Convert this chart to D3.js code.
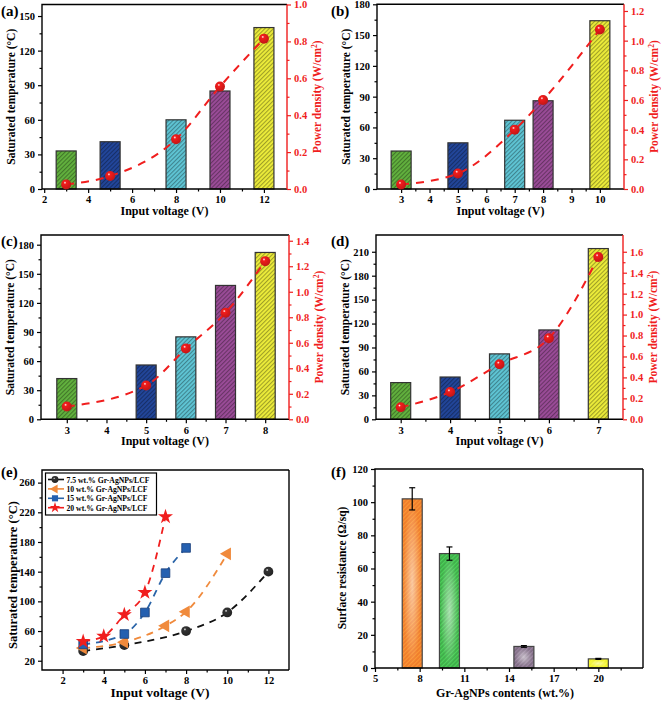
<!DOCTYPE html>
<html><head><meta charset="utf-8">
<script src="https://cdn.jsdelivr.net/npm/d3@7"></script>
<style>
body{margin:0;background:#fff}
text{font-family:"Liberation Serif","Times New Roman",serif;font-weight:bold}
</style>
</head><body>
<svg id="c" width="661" height="703"></svg>
<script>
// ---------- DATA ----------
const voltsA=[3,5,8,10,12],  tempA=[33,41,60,85,140],  powA=[0.025,0.07,0.27,0.555,0.815];
const voltsB=[3,5,7,8,10],   tempB=[37,45,67,86,164],  powB=[0.03,0.105,0.40,0.60,1.075];
const voltsC=[3,5,6,7,8],    tempC=[42,56,85,138,172], powC=[0.10,0.265,0.555,0.835,1.24];
const voltsD=[3,4,5,6,7],    tempD=[46,53,82,112,214], powD=[0.115,0.26,0.525,0.775,1.55];
const seriesNames=["7.5 wt.% Gr-AgNPs/LCF","10 wt.% Gr-AgNPs/LCF","15 wt.% Gr-AgNPs/LCF","20 wt.% Gr-AgNPs/LCF"];
const contents=[7.5,10,15,20];
const resistance=[102,69,13,5.5];
const resistErr=[6.7,4,0.5,0.3];
const ticksA={x:[2,4,6,8,10,12],y:[0,30,60,90,120,150],y2:[0,0.2,0.4,0.6,0.8,1.0]};
const ticksB={x:[3,4,5,6,7,8,9,10],y:[0,30,60,90,120,150,180],y2:[0,0.2,0.4,0.6,0.8,1.0,1.2]};
const ticksC={x:[3,4,5,6,7,8],y:[0,30,60,90,120,150,180],y2:[0,0.2,0.4,0.6,0.8,1.0,1.2,1.4]};
const ticksD={x:[3,4,5,6,7],y:[0,30,60,90,120,150,180,210],y2:[0,0.2,0.4,0.6,0.8,1.0,1.2,1.4,1.6]};
const ticksE={x:[2,4,6,8,10,12],y:[20,60,100,140,180,220,260]};
const ticksF={x:[5,8,11,14,17,20],y:[0,20,40,60,80,100,120]};

// ---------- STYLE ----------
const barColors=["#62b23e","#22469b","#5fc6d6","#9b4c99","#eeee3a"];
const fColors=["#f07d2c","#3fae4a","#7f6c84","#eef02e"];
const lineColorsE=["#111111","#f08a3c","#2a64a8","#f01e1e"];
const RED="#f01e1e";

const svg=d3.select("#c");
const defs=svg.append("defs");
function hatch(id,col,lineCol,op){
  const p=defs.append("pattern").attr("id",id).attr("patternUnits","userSpaceOnUse")
    .attr("width",3).attr("height",3).attr("patternTransform","rotate(45)");
  p.append("rect").attr("width",3).attr("height",3).attr("fill",col);
  p.append("line").attr("x1",0.6).attr("y1",0).attr("x2",0.6).attr("y2",3)
    .attr("stroke",lineCol).attr("stroke-width",1).attr("stroke-opacity",op);
}
barColors.forEach((c,i)=>hatch("h"+i,c,d3.color(c).darker(1.6),0.85));
fColors.forEach((c,i)=>hatch("f"+i,c,d3.color(c).brighter(0.8),0.7));
const glow=defs.append("radialGradient").attr("id","glow");
glow.append("stop").attr("offset","0%").attr("stop-color","#fff").attr("stop-opacity",0.55);
glow.append("stop").attr("offset","100%").attr("stop-color","#fff").attr("stop-opacity",0);
function ball(id,c,dk){
  const g=defs.append("radialGradient").attr("id",id).attr("cx","38%").attr("cy","33%").attr("r","65%");
  g.append("stop").attr("offset","0%").attr("stop-color","#fff");
  g.append("stop").attr("offset","22%").attr("stop-color",c);
  g.append("stop").attr("offset","100%").attr("stop-color",d3.color(c).darker(dk));
}
ball("ballR","#f21c1c",0.6);ball("ballK","#333",1);

function axes(g,x,y,box,t,opt){
  const xs=t.x, ys=t.y;
  const xMinor=[];for(let i=0;i<xs.length-1;i++)xMinor.push((xs[i]+xs[i+1])/2);
  if(opt.xMinorEnds){xMinor.push(xs[xs.length-1]+(xs[1]-xs[0])/2);}
  const yMinor=[];for(let i=0;i<ys.length-1;i++)yMinor.push((ys[i]+ys[i+1])/2);
  if(opt.yMinorTop) yMinor.push(ys[ys.length-1]+(ys[1]-ys[0])/2);
  const yMinF=yMinor.filter(v=>v>=y.domain()[0]&&v<=y.domain()[1]);
  const xMinF=xMinor.filter(v=>v>=x.domain()[0]&&v<=x.domain()[1]);
  g.append("g").attr("transform",`translate(0,${box.b})`)
    .call(d3.axisBottom(x).tickValues(xs).tickSize(4).tickPadding(3).tickFormat(d=>d));
  g.append("g").attr("transform",`translate(0,${box.b})`)
    .call(d3.axisBottom(x).tickValues(xMinF).tickSize(2.5).tickFormat(""));
  g.append("g").attr("transform",`translate(${box.l},0)`)
    .call(d3.axisLeft(y).tickValues(ys).tickSize(4).tickPadding(3).tickFormat(d=>d));
  g.append("g").attr("transform",`translate(${box.l},0)`)
    .call(d3.axisLeft(y).tickValues(yMinF).tickSize(2.5).tickFormat(""));
  g.selectAll(".domain").remove();
  g.selectAll(".tick line").attr("stroke","#000").attr("stroke-width",1.2);
  g.selectAll(".tick text").attr("font-size",opt.fs||10.5).attr("fill","#000");
}

function frame(g,box,rightColor){
  g.append("path").attr("d",`M${box.r},${box.t}H${box.l}V${box.b}H${box.r}`)
    .attr("fill","none").attr("stroke","#000").attr("stroke-width",1.4);
  g.append("line").attr("x1",box.r).attr("x2",box.r).attr("y1",box.t).attr("y2",box.b)
    .attr("stroke",rightColor||"#000").attr("stroke-width",1.4);
}

function titleText(g,x,y,rot,fs,col){
  return g.append("text").attr("transform",`translate(${x},${y}) rotate(${rot})`)
    .attr("text-anchor","middle").attr("font-size",fs).attr("fill",col||"#000");
}

function barPanel(cfg){
  const {box,xd,yd,y2d,volts,temp,pow,ticks,label}=cfg;
  const g=svg.append("g");
  const x=d3.scaleLinear().domain(xd).range([box.l,box.r]);
  const y=d3.scaleLinear().domain(yd).range([box.b,box.t]);
  const y2=d3.scaleLinear().domain(y2d).range([box.b,box.t]);
  const bw=20;
  g.selectAll("rect.bar").data(volts).join("rect").attr("class","bar")
    .attr("x",d=>x(d)-bw/2).attr("width",bw)
    .attr("y",(d,i)=>y(temp[i])).attr("height",(d,i)=>y(0)-y(temp[i]))
    .attr("fill",(d,i)=>`url(#h${i})`).attr("stroke","#333").attr("stroke-width",1.2);
  axes(g,x,y,box,ticks,{});
  const y2Minor=[];for(let i=0;i<ticks.y2.length-1;i++)y2Minor.push((ticks.y2[i]+ticks.y2[i+1])/2);
  const gr=g.append("g").attr("transform",`translate(${box.r},0)`)
    .call(d3.axisRight(y2).tickValues(ticks.y2).tickSize(4).tickPadding(3).tickFormat(d3.format(".1f")));
  g.append("g").attr("transform",`translate(${box.r},0)`).attr("class","r2")
    .call(d3.axisRight(y2).tickValues(y2Minor).tickSize(2.5).tickFormat(""));
  g.selectAll(".domain").remove();
  gr.selectAll("line").attr("stroke",RED).attr("stroke-width",1.2);
  g.selectAll(".r2 line").attr("stroke",RED).attr("stroke-width",1.2);
  gr.selectAll("text").attr("fill",RED).attr("font-size",10.5);
  frame(g,box,RED);
  const line=d3.line().x((d,i)=>x(volts[i])).y(d=>y2(d)).curve(d3.curveMonotoneX);
  g.append("path").attr("d",line(pow)).attr("fill","none").attr("stroke",RED)
    .attr("stroke-width",2).attr("stroke-dasharray","8,7");
  g.selectAll("circle.pt").data(pow).join("circle").attr("class","pt")
    .attr("cx",(d,i)=>x(volts[i])).attr("cy",d=>y2(d)).attr("r",5).attr("fill","url(#ballR)");
  const cx=(box.l+box.r)/2;
  titleText(g,cx,box.b+26,0,12).text("Input voltage (V)");
  titleText(g,box.l-27,(box.t+box.b)/2,-90,11.5).text("Saturated temperature (°C)");
  const rt=titleText(g,box.r+34,(box.t+box.b)/2,-90,11.5,RED);
  rt.append("tspan").text("Power density (W/cm");
  rt.append("tspan").attr("font-size",7.5).attr("dy",-4.5).text("2");
  rt.append("tspan").attr("dy",4.5).text(")");
  g.append("text").attr("x",cfg.lx).attr("y",cfg.ly).attr("font-size",15).text(label);
}

barPanel({box:{l:42,r:287,t:4.5,b:189},xd:[1.9,13.05],yd:[0,160],y2d:[0,1],volts:voltsA,temp:tempA,pow:powA,ticks:ticksA,label:"(a)",lx:1,ly:16});
barPanel({box:{l:377,r:624,t:4.3,b:189},xd:[2.15,10.85],yd:[0,180],y2d:[0,1.245],volts:voltsB,temp:tempB,pow:powB,ticks:ticksB,label:"(b)",lx:331,ly:16});
barPanel({box:{l:41,r:289,t:235,b:419.3},xd:[2.35,8.6],yd:[0,190],y2d:[0,1.445],volts:voltsC,temp:tempC,pow:powC,ticks:ticksC,label:"(c)",lx:1,ly:246});
barPanel({box:{l:376,r:623,t:235,b:419.3},xd:[2.5,7.5],yd:[0,231],y2d:[0,1.76],volts:voltsD,temp:tempD,pow:powD,ticks:ticksD,label:"(d)",lx:331,ly:246});

// ---------- PANEL E ----------
(function(){
  const box={l:42,r:289,t:470,b:670};
  const g=svg.append("g");
  const x=d3.scaleLinear().domain([1,13]).range([box.l,box.r]);
  const y=d3.scaleLinear().domain([7.5,277]).range([box.b,box.t]);
  axes(g,x,y,box,ticksE,{yMinorTop:true,fs:10.5});
  frame(g,box);
  const data=[[voltsA,tempA],[voltsB,tempB],[voltsC,tempC],[voltsD,tempD]];
  const syms=[d3.symbolCircle,d3.symbolTriangle,d3.symbolSquare,d3.symbolStar];
  const sizes=[75,70,75,70];
  const rots=[0,-90,0,0];
  const fills=["url(#ballK)","#f08a3c","#2560b0","#f01e1e"];
  data.forEach(([vx,vy],k)=>{
    const line=d3.line().x((d,i)=>x(vx[i])).y(d=>y(d)).curve(d3.curveMonotoneX);
    g.append("path").attr("d",line(vy)).attr("fill","none").attr("stroke",lineColorsE[k])
      .attr("stroke-width",1.8).attr("stroke-dasharray","7,6");
  });
  data.forEach(([vx,vy],k)=>{
    g.selectAll(null).data(vy).join("path")
      .attr("transform",(d,i)=>`translate(${x(vx[i])},${y(d)}) rotate(${rots[k]})`)
      .attr("d",d3.symbol(syms[k],sizes[k])).attr("fill",fills[k])
      .attr("stroke",k===2?"#1a3f7a":"none").attr("stroke-width",0.8);
  });
  g.append("rect").attr("x",45.5).attr("y",473).attr("width",111).attr("height",42)
    .attr("fill","#fff").attr("stroke","#000").attr("stroke-width",1.2);
  seriesNames.forEach((n,k)=>{
    const yy=479.5+k*9.4;
    g.append("line").attr("x1",48).attr("x2",64).attr("y1",yy).attr("y2",yy)
      .attr("stroke",lineColorsE[k]).attr("stroke-width",1.6);
    g.append("path").attr("transform",`translate(55,${yy}) rotate(${rots[k]})`)
      .attr("d",d3.symbol(syms[k],sizes[k]*0.5)).attr("fill",fills[k]);
    g.append("text").attr("x",66.5).attr("y",yy+3).attr("font-size",7.7).text(n);
  });
  titleText(g,160,697,0,13.5).text("Input voltage (V)");
  titleText(g,17,(box.t+box.b)/2+5,-90,12.5).text("Saturated temperature (°C)");
  g.append("text").attr("x",1).attr("y",477).attr("font-size",15).text("(e)");
})();

// ---------- PANEL F ----------
(function(){
  const box={l:375,r:643,t:469,b:668};
  const g=svg.append("g");
  const x=d3.scaleLinear().domain([5,23]).range([box.l,box.r]);
  const y=d3.scaleLinear().domain([0,120]).range([box.b,box.t]);
  const bw=20;
  g.selectAll("rect.bar").data(contents).join("rect")
    .attr("x",d=>x(d)-bw/2).attr("width",bw)
    .attr("y",(d,i)=>y(resistance[i])).attr("height",(d,i)=>y(0)-y(resistance[i]))
    .attr("fill",(d,i)=>`url(#f${i})`).attr("stroke","#444").attr("stroke-width",1.2);
  g.selectAll("rect.gl").data(contents).join("rect")
    .attr("x",d=>x(d)-bw/2+1).attr("width",bw-2)
    .attr("y",(d,i)=>y(resistance[i])+1).attr("height",(d,i)=>Math.max(0,y(0)-y(resistance[i])-2))
    .attr("fill","url(#glow)");
  contents.forEach((c,i)=>{
    const cx=x(c), t=y(resistance[i]+resistErr[i]), b=y(resistance[i]-resistErr[i]);
    g.append("line").attr("x1",cx).attr("x2",cx).attr("y1",t).attr("y2",b).attr("stroke","#000").attr("stroke-width",1.2);
    [t,b].forEach(v=>g.append("line").attr("x1",cx-3).attr("x2",cx+3).attr("y1",v).attr("y2",v).attr("stroke","#000").attr("stroke-width",1.2));
  });
  axes(g,x,y,box,ticksF,{xMinorEnds:true,fs:10.5});
  frame(g,box);
  titleText(g,505,697,0,12).text("Gr-AgNPs contents (wt.%)");
  titleText(g,346,568,-90,11.5).text("Surface resistance (Ω/sq)");
  g.append("text").attr("x",331).attr("y",477).attr("font-size",15).text("(f)");
})();
</script>
</body></html>
